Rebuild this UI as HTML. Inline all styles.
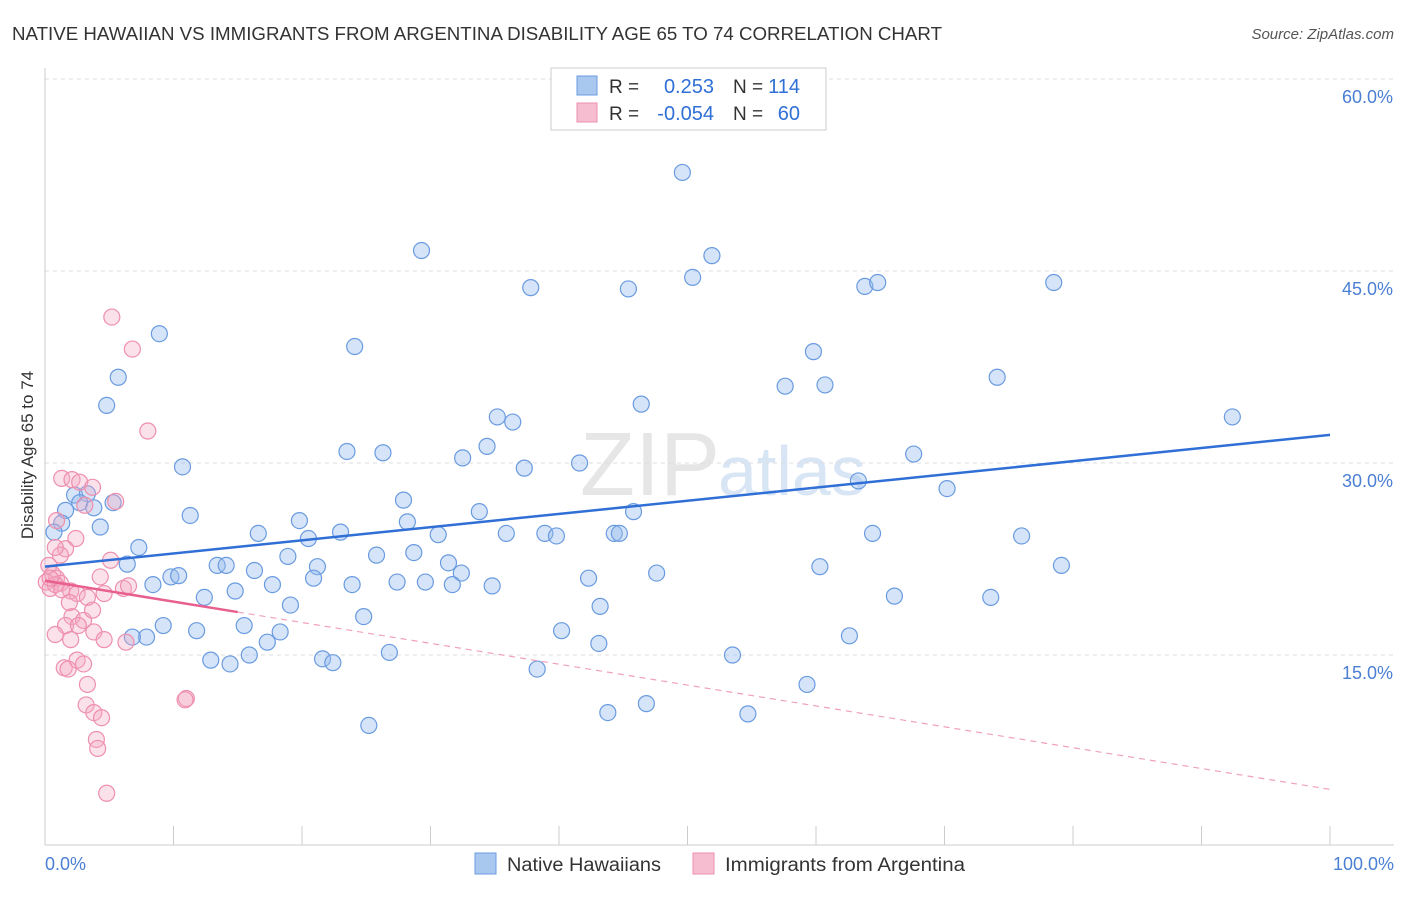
<!DOCTYPE html>
<html><head><meta charset="utf-8"><style>
body{margin:0;background:#fff;font-family:"Liberation Sans",sans-serif;}
svg text{font-family:"Liberation Sans",sans-serif;}
</style></head><body>
<svg id="c" width="1406" height="892" viewBox="0 0 1406 892" xmlns="http://www.w3.org/2000/svg">
<text x="12" y="40" font-size="18" fill="#333" textLength="930" lengthAdjust="spacingAndGlyphs">NATIVE HAWAIIAN VS IMMIGRANTS FROM ARGENTINA DISABILITY AGE 65 TO 74 CORRELATION CHART</text>
<text x="1394" y="39" font-size="15" fill="#555" font-style="italic" text-anchor="end">Source: ZipAtlas.com</text>
<text x="720" y="495" font-size="90" fill="#e6e6e6" text-anchor="end" font-family="Liberation Serif">ZIP</text>
<text x="718" y="495" font-size="70" fill="#d8e5f5">atlas</text>
<g id="grid"></g>
<g id="marks"></g>
<text transform="translate(33,455) rotate(-90)" font-size="17" fill="#333" text-anchor="middle">Disability Age 65 to 74</text>
<text x="45" y="870" font-size="18" fill="#4a7fd4">0.0%</text>
<text x="1394" y="870" font-size="18" fill="#4a7fd4" text-anchor="end">100.0%</text>
<g>
<rect x="551" y="68" width="275" height="62" fill="#fff" stroke="#ccc"/>
<rect x="577" y="76" width="20" height="19" fill="#a9c8f0" stroke="#6a9be0"/>
<rect x="577" y="103" width="20" height="19" fill="#f6bcd0" stroke="#ee8fae"/>
<text x="609" y="93" font-size="19" fill="#333">R =</text>
<text x="714" y="93" font-size="20" fill="#2f6fd6" text-anchor="end">0.253</text>
<text x="733" y="93" font-size="19" fill="#333">N =</text>
<text x="800" y="93" font-size="20" fill="#2f6fd6" text-anchor="end">114</text>
<text x="609" y="120" font-size="19" fill="#333">R =</text>
<text x="714" y="120" font-size="20" fill="#2f6fd6" text-anchor="end">-0.054</text>
<text x="733" y="120" font-size="19" fill="#333">N =</text>
<text x="800" y="120" font-size="20" fill="#2f6fd6" text-anchor="end">60</text>
</g>
<g>
<rect x="475" y="853" width="21" height="21" fill="#a9c8f0" stroke="#6a9be0"/>
<text x="507" y="871" font-size="19" fill="#333" textLength="154" lengthAdjust="spacingAndGlyphs">Native Hawaiians</text>
<rect x="693" y="853" width="21" height="21" fill="#f6bcd0" stroke="#ee8fae"/>
<text x="725" y="871" font-size="19" fill="#333" textLength="240" lengthAdjust="spacingAndGlyphs">Immigrants from Argentina</text>
</g>
</svg>
<script>
const yTicks=[15,30,45,60];
const xTicks=[0,10,20,30,40,50,60,70,80,90,100];
const blueX=[49.6,29.3,51.9,50.4,37.8,45.4,63.8,64.8,78.5,8.9,24.1,59.8,5.7,57.6,60.7,74.1,4.8,46.4,92.4,35.2,36.4,23.5,26.3,34.4,32.5,10.7,37.3,41.6,67.6,63.3,70.2,2.3,3.3,2.7,3.8,1.6,5.3,27.9,11.3,19.8,33.8,28.2,45.8,1.3,4.3,0.7,16.6,23.0,30.6,35.9,38.9,39.8,44.3,44.7,64.4,76.0,20.5,7.3,18.9,25.8,28.7,6.4,13.4,14.1,31.4,21.2,16.3,32.4,79.1,60.3,47.6,9.8,10.4,20.9,42.3,8.4,17.7,23.9,27.4,29.6,31.7,34.8,14.8,12.4,66.1,73.6,19.1,43.2,24.8,9.2,11.8,7.9,40.2,6.8,18.3,15.5,62.6,17.3,43.1,26.8,15.9,53.5,12.9,14.4,21.6,22.4,38.3,59.3,43.8,46.8,54.7,25.2];
const blueY=[52.7,46.6,46.2,44.5,43.7,43.6,43.8,44.1,44.1,40.1,39.1,38.7,36.7,36.0,36.1,36.7,34.5,34.6,33.6,33.6,33.2,30.9,30.8,31.3,30.4,29.7,29.6,30.0,30.7,28.6,28.0,27.5,27.6,26.9,26.5,26.3,26.9,27.1,25.9,25.5,26.2,25.4,26.2,25.3,25.0,24.6,24.5,24.6,24.4,24.5,24.5,24.3,24.5,24.5,24.5,24.3,24.1,23.4,22.7,22.8,23.0,22.1,22.0,22.0,22.2,21.9,21.6,21.4,22.0,21.9,21.4,21.1,21.2,21.0,21.0,20.5,20.5,20.5,20.7,20.7,20.5,20.4,20.0,19.5,19.6,19.5,18.9,18.8,18.0,17.3,16.9,16.4,16.9,16.4,16.8,17.3,16.5,16.0,15.9,15.2,15.0,15.0,14.6,14.3,14.7,14.4,13.9,12.7,10.5,11.2,10.4,9.5];
const pinkX=[5.2,6.8,8.0,1.3,2.1,2.7,3.7,5.5,3.1,0.9,2.4,1.6,1.2,5.1,0.3,0.6,0.9,0.1,1.2,0.4,0.8,4.3,2.0,2.5,3.3,4.6,6.1,6.5,2.1,1.6,3.0,2.6,3.8,0.8,2.0,4.6,6.3,2.5,3.0,1.5,1.8,3.3,3.2,3.8,4.4,11.0,10.9,4.0,4.1,4.8,3.7,1.3,1.9,0.8,0.4];
const pinkY=[41.4,38.9,32.5,28.8,28.7,28.5,28.1,27.0,26.7,25.5,24.1,23.3,22.8,22.4,22.0,21.3,21.0,20.7,20.6,20.2,20.5,21.1,20.0,19.8,19.5,19.8,20.2,20.4,18.0,17.3,17.7,17.3,16.8,16.6,16.2,16.2,16.0,14.6,14.3,14.0,13.9,12.7,11.1,10.5,10.1,11.6,11.5,8.4,7.7,4.2,18.5,20.1,19.1,23.4,21.0];
const blueTrend=[21.9,32.2];
const pinkTrend=[20.8,4.5];
const pinkSolidEnd=15;
const NS="http://www.w3.org/2000/svg";
const X0=45,X1=1330,Y0=847,YS=12.8;
function sx(v){return X0+(X1-X0)*v/100;}
function sy(v){return Y0-v*YS;}
function mk(t,a,p){const e=document.createElementNS(NS,t);for(const k in a)e.setAttribute(k,a[k]);p.appendChild(e);return e;}
const grid=document.getElementById('grid'),marks=document.getElementById('marks');
yTicks.forEach(t=>{
 const l=mk('line',{x1:X0,x2:1394,y1:sy(t),y2:sy(t),stroke:'#ddd','stroke-dasharray':'4,4'},grid);
 
 
 const tx=mk('text',{x:1393,y:sy(t)+24,'font-size':18,fill:'#4a7fd4','text-anchor':'end'},grid);
 tx.textContent=t.toFixed(1)+'%';
 
 
});
{const a=mk('line',{x1:X0,x2:X0,y1:68,y2:845,stroke:'#ccc'},grid);


const b=mk('line',{x1:X0,x2:1394,y1:845,y2:845,stroke:'#ccc'},grid);

}
xTicks.forEach(t=>{const l=mk('line',{x1:sx(t),x2:sx(t),y1:826,y2:845,stroke:'#ccc'},grid);

});
blueX.forEach((x,i)=>{const c=mk('circle',{cx:sx(x),cy:sy(blueY[i]),r:8,fill:'rgba(150,188,238,0.4)',stroke:'#6a9be0','stroke-width':1.2},marks);

});
pinkX.forEach((x,i)=>{const c=mk('circle',{cx:sx(x),cy:sy(pinkY[i]),r:8,fill:'rgba(244,170,196,0.35)',stroke:'#ee8fae','stroke-width':1.2},marks);

});
{const l=mk('line',{x1:sx(0),y1:sy(blueTrend[0]),x2:sx(100),y2:sy(blueTrend[1]),stroke:'#2f6fd6','stroke-width':2.5},marks);


const pe=pinkTrend[0]+(pinkTrend[1]-pinkTrend[0])*pinkSolidEnd/100;
const s=mk('line',{x1:sx(0),y1:sy(pinkTrend[0]),x2:sx(pinkSolidEnd),y2:sy(pe),stroke:'#e8608f','stroke-width':2.5},marks);


const d=mk('line',{x1:sx(pinkSolidEnd),y1:sy(pe),x2:sx(100),y2:sy(pinkTrend[1]),stroke:'#f0a0bc','stroke-width':1.2,'stroke-dasharray':'6,5'},marks);

}
</script>
</body></html>
